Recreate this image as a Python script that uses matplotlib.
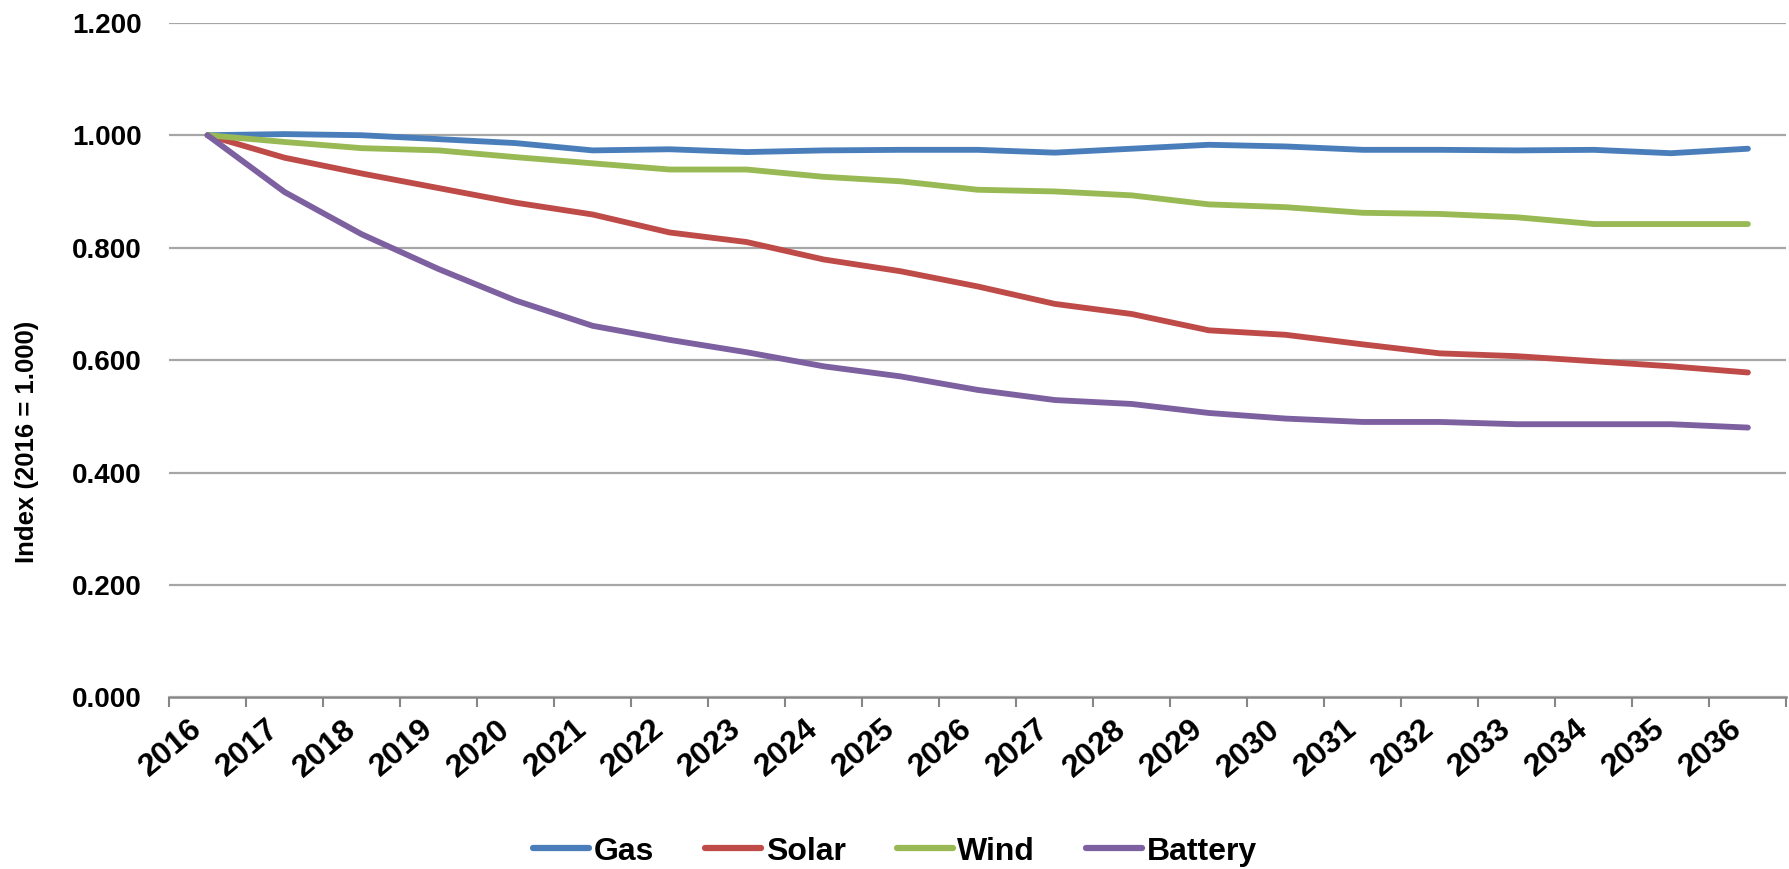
import matplotlib
matplotlib.use("Agg")
import matplotlib.pyplot as plt
from matplotlib.ticker import FixedLocator, FuncFormatter

years = [str(y) for y in range(2016, 2037)]
gas = [1.000, 1.002, 1.000, 0.993, 0.986, 0.973, 0.975, 0.970, 0.973, 0.974, 0.974,
       0.969, 0.976, 0.983, 0.980, 0.974, 0.974, 0.973, 0.974, 0.968, 0.976]
solar = [1.000, 0.960, 0.932, 0.906, 0.880, 0.859, 0.827, 0.810, 0.779, 0.758, 0.731,
         0.700, 0.682, 0.653, 0.645, 0.628, 0.612, 0.607, 0.598, 0.589, 0.578]
wind = [1.000, 0.988, 0.977, 0.973, 0.961, 0.950, 0.939, 0.939, 0.926, 0.918, 0.903,
        0.900, 0.893, 0.877, 0.872, 0.862, 0.860, 0.854, 0.842, 0.842, 0.842]
battery = [1.000, 0.899, 0.824, 0.762, 0.706, 0.661, 0.636, 0.614, 0.589, 0.571, 0.547,
           0.529, 0.522, 0.506, 0.496, 0.490, 0.490, 0.486, 0.486, 0.486, 0.480]
series_names = ["Gas", "Solar", "Wind", "Battery"]
colors = ["#4A7EBB", "#BE4B48", "#98B954", "#7D60A0"]
y_ticks = [0.0, 0.2, 0.4, 0.6, 0.8, 1.0, 1.2]

plt.rcParams['font.family'] = ['Liberation Sans', 'DejaVu Sans']
plt.rcParams['font.weight'] = 'bold'

fig = plt.figure(figsize=(17.9, 8.69), dpi=100)
ax = fig.add_axes([0.0944, 0.1974, 0.9036, 0.7764])

x = list(range(len(years)))
for name, vals, c in zip(series_names, [gas, solar, wind, battery], colors):
    ax.plot(x, vals, color=c, lw=4.2, label=name, solid_capstyle='round', solid_joinstyle='round')

ax.set_xlim(-0.5, len(years) - 0.5)
ax.set_ylim(0, 1.2)
ax.yaxis.set_major_locator(FixedLocator(y_ticks))
ax.yaxis.set_major_formatter(FuncFormatter(lambda v, p: f"{v:.3f}"))
ax.grid(axis='y', color='#A6A6A6', lw=1.6)
ax.set_axisbelow(True)
for s in ['left', 'right', 'top']:
    ax.spines[s].set_visible(False)
ax.spines['bottom'].set_color('#868686')
ax.spines['bottom'].set_linewidth(1.8)
ax.spines['bottom'].set_zorder(0.5)

ax.set_xticks(x)
ax.set_xticklabels(years, rotation=40, ha='right', va='top', rotation_mode='default',
                   fontsize=23, fontweight='bold')
ax.set_xticks([i - 0.5 for i in range(len(years) + 1)], minor=True)
ax.tick_params(axis='x', which='major', length=0, pad=12)
ax.tick_params(axis='x', which='minor', length=7, width=1.5, color='#868686')
ax.tick_params(axis='y', length=0, pad=19.5, labelsize=20)
for lbl in ax.get_yticklabels():
    lbl.set_fontweight('bold')

fig.text(0.015, 0.491, "Index (2016 = 1.000)", rotation=90, ha='center', va='center',
         fontsize=18.5, fontweight='bold')

leg = fig.legend(loc='center', bbox_to_anchor=(0.5, 0.02), ncol=4, frameon=False,
                 fontsize=23, handlelength=1.75, handletextpad=0.15, columnspacing=1.6)
for t in leg.get_texts():
    t.set_fontweight('bold')
for h in leg.legend_handles:
    h.set_linewidth(4.5)

fig.savefig("out.png", dpi=100)
